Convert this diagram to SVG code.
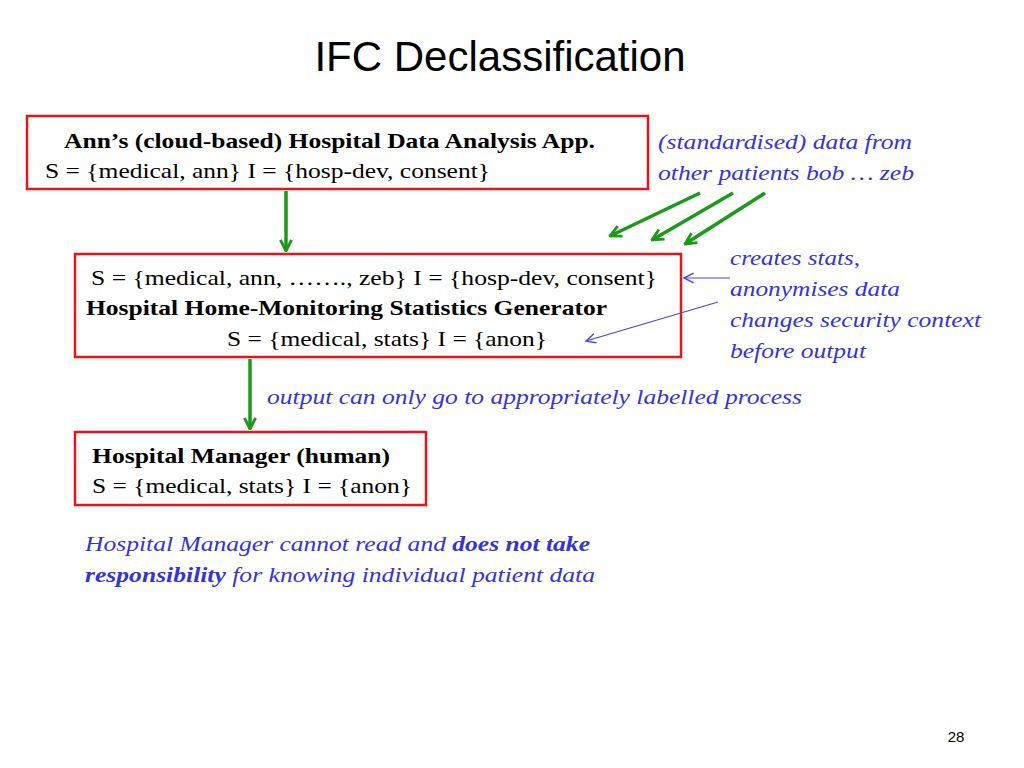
<svg xmlns="http://www.w3.org/2000/svg" width="1024" height="768" viewBox="0 0 1024 768">
<style>
.t{font-family:"Liberation Serif","Times New Roman","DejaVu Serif",serif;font-size:22px;fill:#000}
.b{font-weight:bold}
.i{font-family:"Liberation Serif","Times New Roman","DejaVu Serif",serif;font-size:22px;font-style:italic;fill:#3333dd}
.box{fill:#fff;stroke:#e8141b;stroke-width:2.5}
.g{stroke:#1a9a1a;stroke-width:3.5;fill:none;marker-end:url(#ga)}
.bl{stroke:#4444ee;stroke-width:1.2;fill:none;marker-end:url(#ba)}
</style>
<defs>
<marker id="ga" viewBox="0 0 10 10" refX="9" refY="5" markerWidth="4" markerHeight="4" orient="auto" markerUnits="strokeWidth"><path d="M1,1 L9,5 L1,9" fill="none" stroke="#1a9a1a" stroke-width="2"/></marker>
<marker id="ba" viewBox="0 0 10 10" refX="9" refY="5" markerWidth="12" markerHeight="12" orient="auto" markerUnits="userSpaceOnUse"><path d="M1,1 L9,5 L1,9" fill="none" stroke="#4444ee" stroke-width="1.2"/></marker>
</defs>
<rect width="1024" height="768" fill="#fff"/>
<text x="500" y="71" text-anchor="middle" style="font-family:'Liberation Sans',Arial,sans-serif;font-size:42px">IFC Declassification</text>
<g id="app">
<rect class="box" x="27" y="116" width="621" height="73"/>
<text class="t b" x="64" y="148" textLength="531" lengthAdjust="spacingAndGlyphs">Ann’s (cloud-based) Hospital Data Analysis App.</text>
<text class="t" x="45" y="178" textLength="445" lengthAdjust="spacingAndGlyphs">S = {medical, ann} I = {hosp-dev, consent}</text>
</g>
<g id="gen">
<rect class="box" x="75" y="254" width="606" height="103"/>
<text class="t" x="91" y="285" textLength="566" lengthAdjust="spacingAndGlyphs">S = {medical, ann, ……., zeb} I = {hosp-dev, consent}</text>
<text class="t b" x="86" y="315" textLength="521" lengthAdjust="spacingAndGlyphs">Hospital Home-Monitoring Statistics Generator</text>
<text class="t" x="227" y="346" textLength="320" lengthAdjust="spacingAndGlyphs">S = {medical, stats} I = {anon}</text>
</g>
<g id="mgr">
<rect class="box" x="75" y="432" width="351" height="73"/>
<text class="t b" x="92" y="463" textLength="298" lengthAdjust="spacingAndGlyphs">Hospital Manager (human)</text>
<text class="t" x="92" y="493" textLength="320" lengthAdjust="spacingAndGlyphs">S = {medical, stats} I = {anon}</text>
</g>
<g id="notes">
<text class="i" x="658" y="149" textLength="254" lengthAdjust="spacingAndGlyphs">(standardised) data from</text>
<text class="i" x="658" y="180" textLength="256" lengthAdjust="spacingAndGlyphs">other patients bob … zeb</text>
<text class="i" x="730" y="265" textLength="130" lengthAdjust="spacingAndGlyphs">creates stats,</text>
<text class="i" x="730" y="296" textLength="170" lengthAdjust="spacingAndGlyphs">anonymises data</text>
<text class="i" x="730" y="327" textLength="251" lengthAdjust="spacingAndGlyphs">changes security context</text>
<text class="i" x="730" y="358" textLength="136" lengthAdjust="spacingAndGlyphs">before output</text>
<text class="i" x="267" y="404" textLength="535" lengthAdjust="spacingAndGlyphs">output can only go to appropriately labelled process</text>
<text class="i" x="85" y="551" textLength="505" lengthAdjust="spacingAndGlyphs">Hospital Manager cannot read and <tspan font-weight="bold">does not take</tspan></text>
<text class="i" x="85" y="582" textLength="510" lengthAdjust="spacingAndGlyphs"><tspan font-weight="bold">responsibility</tspan> for knowing individual patient data</text>
</g>
<text x="956" y="742" text-anchor="middle" style="font-family:'Liberation Sans',Arial,sans-serif;font-size:15px">28</text>
<g id="connectors">
<path class="g" d="M286,191 V251"/>
<path class="g" d="M250,359 V429"/>
<path class="g" d="M700,193 L610,236"/>
<path class="g" d="M733,193 L652,240"/>
<path class="g" d="M765,193 L685,244"/>
<path class="bl" d="M730,278 H684"/>
<path class="bl" d="M718,302 L586,341"/>
</g>
</svg>
